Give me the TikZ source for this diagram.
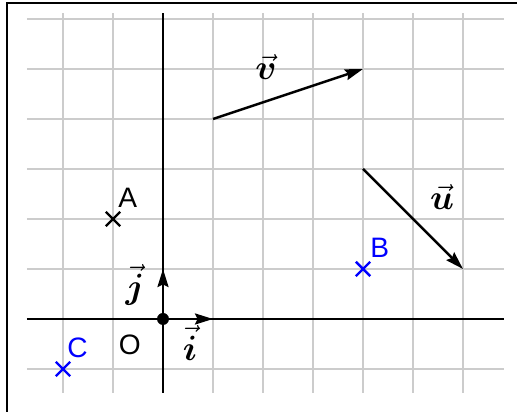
\RequirePackage{fix-cm}
\documentclass[tikz,border=0pt]{standalone}
\usepackage{fontspec}
\usepackage{bm}
\newfontfamily\ptfont{Liberation Sans}
\definecolor{cGrid}{HTML}{CCCCCC}
\definecolor{cPt}{HTML}{0000FF}
\usetikzlibrary{positioning,arrows.meta,shapes.misc}
\tikzset{
  grid-line/.style={draw=cGrid,line width=1.3pt},
  axis-line/.style={draw=black,line width=1.2pt},
  frame-line/.style={draw=black,line width=1.2pt},
  vec-arrow/.style={-{Stealth[length=3.6mm,width=2.2mm,inset=0.5mm]},line width=1.4pt},
  pt-cross/.style={cross out,draw,line width=1.4pt,minimum size=2.4mm,inner sep=0pt},
  pt-label/.style={font=\ptfont\fontsize{16}{19}\selectfont,inner sep=0pt},
  vec-label/.style={font=\fontsize{20}{24}\selectfont,inner sep=0pt},
  origin-dot/.style={circle,fill=black,inner sep=0pt,minimum size=2.4mm},
}

\begin{document}
\begin{tikzpicture}
  \useasboundingbox (-3.26,-1.86) rectangle (7.08,6.38);
  \draw[frame-line] (-3.12,-1.86) -- (-3.12,6.32) -- (7.08,6.32);
  % quadrillage
  \foreach \y in {-1,...,6} \draw[grid-line] (-2.72,\y) -- (6.82,\y);
  \foreach \x in {-2,...,6} \draw[grid-line] (\x,-1.48) -- (\x,6.12);
  \draw[axis-line] (-2.72,0) -- (6.82,0);
  \draw[axis-line] (0,-1.48) -- (0,6.12);
  % repere
  \coordinate (O) at (0,0);
  \coordinate (iEnd) at (1,0);
  \coordinate (jEnd) at (0,1);
  \draw[vec-arrow] (O) -- (iEnd);
  \draw[vec-arrow] (O) -- (jEnd);
  \node[origin-dot] (dotO) at (O) {};
  \node[pt-label,below left=3.2mm and 4.4mm of O] (lO) {O};
  \node[vec-label] (li) at (0.54,-0.48) {$\vec{\bm i}$};
  \node[vec-label] (lj) at (-0.56,0.68) {$\vec{\bm j}$};
  % points
  \node[pt-cross] (pA) at (-1,2) {};
  \node[pt-label,above right=2.2mm and 1mm of pA.center] (lA) {A};
  \node[pt-cross,draw=cPt] (pB) at (4,1) {};
  \node[pt-label,text=cPt,above right=2.2mm and 1.4mm of pB.center] (lB) {B};
  \node[pt-cross,draw=cPt] (pC) at (-2,-1) {};
  \node[pt-label,text=cPt,above right=2.2mm and 0.8mm of pC.center] (lC) {C};
  % vecteurs
  \coordinate (v0) at (1,4);
  \coordinate (v1) at (4,5);
  \draw[vec-arrow] (v0) -- (v1);
  \node[vec-label] (lv) at (2.06,5.04) {$\vec{\bm v}$};
  \coordinate (u0) at (4,3);
  \coordinate (u1) at (6,1);
  \draw[vec-arrow] (u0) -- (u1);
  \node[vec-label] (lu) at (5.58,2.44) {$\vec{\bm u}$};
\end{tikzpicture}
\end{document}
